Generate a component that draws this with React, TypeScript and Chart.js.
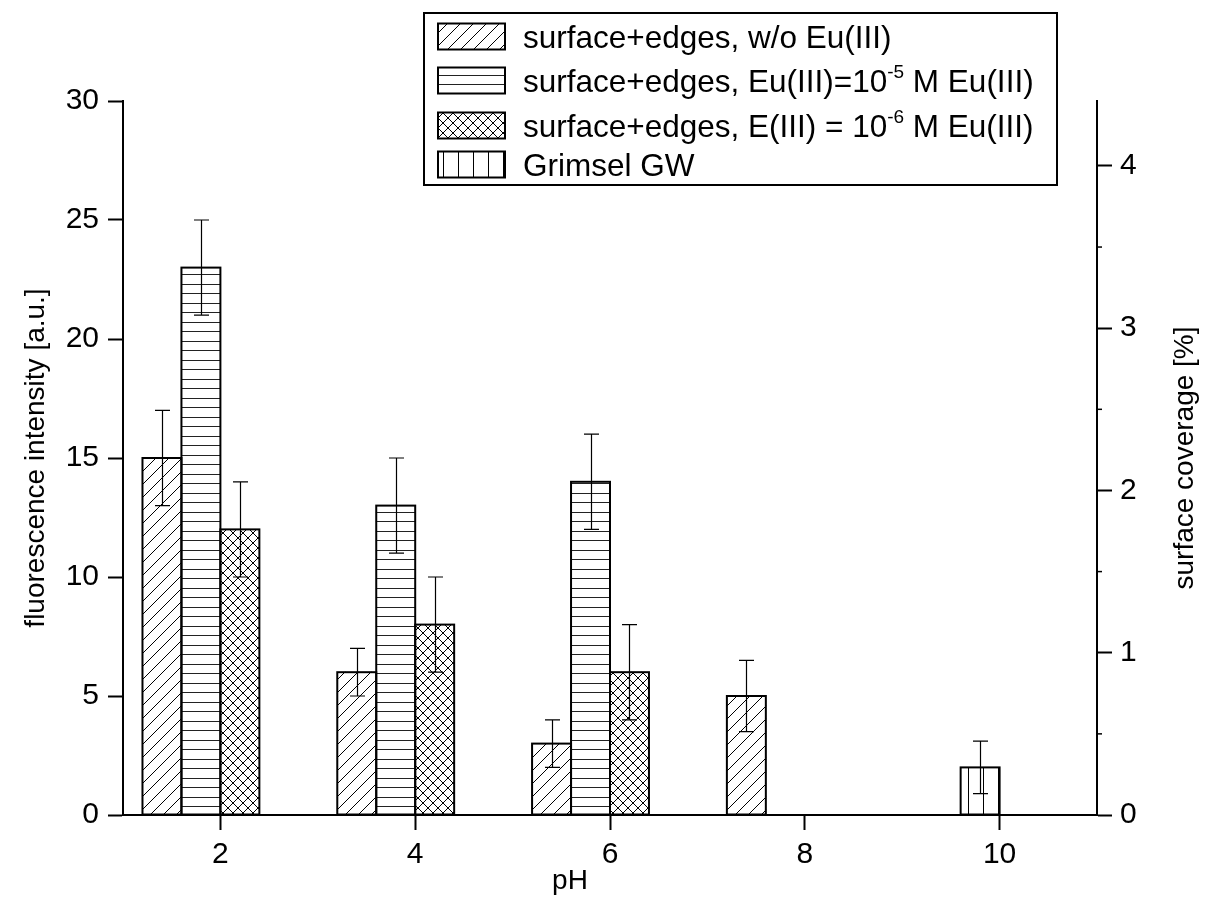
import React, { useEffect, useRef } from 'react';
import { Chart, registerables } from 'chart.js';

Chart.register(...registerables);

// ---------- data ----------
const pHTicks = [2, 4, 6, 8, 10];
const intensityTicks = [0, 5, 10, 15, 20, 25, 30];
const coverageTicks = [0, 1, 2, 3, 4];
const coverageMinorTicks = [0.5, 1.5, 2.5, 3.5];

const woEuPH = [1.4, 3.4, 5.4, 7.4];
const woEuVal = [15, 6, 3, 5];
const woEuErr = [2, 1, 1, 1.5];

const eu5PH = [1.8, 3.8, 5.8];
const eu5Val = [23, 13, 14];
const eu5Err = [2, 2, 2];

const eu6PH = [2.2, 4.2, 6.2];
const eu6Val = [12, 8, 6];
const eu6Err = [2, 2, 2];

const grimselPH = [9.8];
const grimselVal = [2];
const grimselErr = [1.1];

type Seg = { t: string; sup?: boolean };
const legendRows: Seg[][] = [
  [{ t: 'surface+edges, w/o Eu(III)' }],
  [{ t: 'surface+edges, Eu(III)=10' }, { t: '-5', sup: true }, { t: ' M Eu(III)' }],
  [{ t: 'surface+edges, E(III) = 10' }, { t: '-6', sup: true }, { t: ' M Eu(III)' }],
  [{ t: 'Grimsel GW' }],
];

const xTitle = 'pH';
const yTitle = 'fluorescence intensity [a.u.]';
const y2Title = 'surface coverage [%]';

const FONT = '"Liberation Sans", Arial, sans-serif';
const CW = 1192;
const CH = 894;

function makePattern(kind: string): CanvasPattern | string {
  const c = document.createElement('canvas');
  let w = 10, h = 10;
  if (kind === 'diag') { w = 13; h = 13; }
  if (kind === 'horiz') { w = 8; h = 19; }
  if (kind === 'cross') { w = 10; h = 10; }
  if (kind === 'vert') { w = 15; h = 8; }
  c.width = w; c.height = h;
  const g = c.getContext('2d')!;
  g.fillStyle = '#fff';
  g.fillRect(0, 0, w, h);
  g.strokeStyle = '#000';
  g.lineWidth = 1;
  g.beginPath();
  if (kind === 'diag' || kind === 'cross') {
    for (let k = -1; k <= 1; k++) {
      g.moveTo(k * w, h);
      g.lineTo(k * w + w, 0);
    }
  }
  if (kind === 'cross') {
    for (let k = -1; k <= 1; k++) {
      g.moveTo(k * w, 0);
      g.lineTo(k * w + w, h);
    }
  }
  if (kind === 'horiz') {
    g.strokeStyle = '#222';
    g.moveTo(0, 0.5); g.lineTo(w, 0.5);
    g.moveTo(0, 10.5); g.lineTo(w, 10.5);
  }
  if (kind === 'vert') {
    g.moveTo(0.5, 0); g.lineTo(0.5, h);
  }
  g.stroke();
  const p = g.createPattern(c, 'repeat');
  return p || '#fff';
}

const pts = (xs: number[], ys: number[]) => xs.map((x, i) => ({ x, y: ys[i] }));

export default function App() {
  const ref = useRef<HTMLCanvasElement | null>(null);

  useEffect(() => {
    if (!ref.current) return;
    const patterns = [makePattern('diag'), makePattern('horiz'), makePattern('cross'), makePattern('vert')];

    const customPlugin = {
      id: 'customDecor',
      beforeDraw(chart: any) {
        const ctx = chart.ctx;
        ctx.save();
        ctx.fillStyle = '#fff';
        ctx.fillRect(0, 0, chart.width, chart.height);
        ctx.restore();
      },
      afterDatasetsDraw(chart: any) {
        const ctx = chart.ctx;
        ctx.save();
        // bar outlines
        ctx.strokeStyle = '#000';
        ctx.lineWidth = 2;
        chart.data.datasets.forEach((ds: any, i: number) => {
          const meta = chart.getDatasetMeta(i);
          meta.data.forEach((el: any) => {
            const { x, y, base, width } = el.getProps(['x', 'y', 'base', 'width'], true);
            ctx.strokeRect(x - width / 2, y, width, base - y);
          });
        });
        // error bars
        ctx.lineWidth = 1.2;
        chart.data.datasets.forEach((ds: any, i: number) => {
          const meta = chart.getDatasetMeta(i);
          const ys = chart.scales[ds.yAxisID || 'y'];
          meta.data.forEach((el: any, j: number) => {
            const v = ds.data[j].y;
            const e = ds.errors[j];
            const x = Math.round(el.x) + 0.5;
            const top = ys.getPixelForValue(v + e);
            const bot = ys.getPixelForValue(v - e);
            ctx.beginPath();
            ctx.moveTo(x, top); ctx.lineTo(x, bot);
            ctx.moveTo(x - 7.5, top); ctx.lineTo(x + 7.5, top);
            ctx.moveTo(x - 7.5, bot); ctx.lineTo(x + 7.5, bot);
            ctx.stroke();
          });
        });
        ctx.restore();
      },
      afterDraw(chart: any) {
        const ctx = chart.ctx;
        const area = chart.chartArea;
        const y2 = chart.scales.y2;
        ctx.save();
        // minor ticks right axis
        ctx.strokeStyle = '#000';
        ctx.lineWidth = 1.5;
        coverageMinorTicks.forEach((v) => {
          const py = y2.getPixelForValue(v);
          ctx.beginPath();
          ctx.moveTo(area.right, py);
          ctx.lineTo(area.right + 5, py);
          ctx.stroke();
        });
        // titles
        ctx.fillStyle = '#000';
        ctx.font = `28px ${FONT}`;
        ctx.textAlign = 'center';
        ctx.textBaseline = 'middle';
        const cy = (area.top + area.bottom) / 2;
        ctx.save();
        ctx.translate(28, cy);
        ctx.rotate(-Math.PI / 2);
        ctx.fillText(yTitle, 0, 0);
        ctx.restore();
        ctx.save();
        ctx.translate(1177, cy);
        ctx.rotate(-Math.PI / 2);
        ctx.fillText(y2Title, 0, 0);
        ctx.restore();
        ctx.textBaseline = 'alphabetic';
        ctx.fillText(xTitle, 562, 881);

        // legend
        ctx.lineWidth = 2;
        ctx.strokeStyle = '#000';
        ctx.fillStyle = '#fff';
        ctx.fillRect(416, 5, 633, 172);
        ctx.strokeRect(416, 5, 633, 172);
        const centers = [28.5, 72.5, 117.5, 156.5];
        legendRows.forEach((row, i) => {
          const c = centers[i];
          ctx.fillStyle = patterns[i] as any;
          ctx.fillRect(430, c - 13, 67, 26);
          ctx.lineWidth = 2;
          ctx.strokeRect(430, c - 13, 67, 26);
          let x = 515;
          const base = c + 11;
          ctx.fillStyle = '#000';
          ctx.textAlign = 'left';
          row.forEach((seg) => {
            ctx.font = seg.sup ? `19px ${FONT}` : `31.5px ${FONT}`;
            ctx.fillText(seg.t, x, seg.sup ? base - 14 : base);
            x += ctx.measureText(seg.t).width;
          });
        });
        ctx.restore();
      },
    };

    const tickFont = { family: FONT, size: 30 };
    const commonGrid = {
      drawOnChartArea: false,
      drawTicks: true,
      tickLength: 15,
      tickColor: '#000',
      tickWidth: 2,
    };
    const commonBorder = { display: true, color: '#000', width: 2 };

    const mk = (label: string, xs: number[], ys: number[], errs: number[], i: number) => ({
      label,
      data: pts(xs, ys),
      errors: errs,
      yAxisID: 'y',
      backgroundColor: patterns[i],
      borderWidth: 0,
      grouped: false,
      barPercentage: 1,
      categoryPercentage: 1,
    });

    const chart = new Chart(ref.current, {
      type: 'bar',
      data: {
        datasets: [
          mk('surface+edges, w/o Eu(III)', woEuPH, woEuVal, woEuErr, 0),
          mk('surface+edges, Eu(III)=10^-5 M Eu(III)', eu5PH, eu5Val, eu5Err, 1),
          mk('surface+edges, E(III) = 10^-6 M Eu(III)', eu6PH, eu6Val, eu6Err, 2),
          mk('Grimsel GW', grimselPH, grimselVal, grimselErr, 3),
        ] as any,
      },
      options: {
        responsive: false,
        animation: false,
        devicePixelRatio: 1,
        layout: { padding: { top: 93, left: 0, right: 0, bottom: 0 } },
        plugins: { legend: { display: false }, tooltip: { enabled: false } },
        scales: {
          x: {
            type: 'linear',
            min: 1,
            max: 11,
            offset: false,
            grid: { ...commonGrid, offset: false },
            border: commonBorder,
            ticks: { font: tickFont, color: '#000', padding: 7, maxRotation: 0 },
            afterBuildTicks: (s: any) => { s.ticks = pHTicks.map((v) => ({ value: v })); },
            afterFit: (s: any) => { s.height = CH - 807; },
          },
          y: {
            type: 'linear',
            position: 'left',
            min: 0,
            max: 30,
            grid: commonGrid,
            border: commonBorder,
            ticks: { font: tickFont, color: '#000', padding: 9 },
            afterBuildTicks: (s: any) => { s.ticks = intensityTicks.map((v) => ({ value: v })); },
            afterFit: (s: any) => { s.width = 115; },
          },
          y2: {
            type: 'linear',
            position: 'right',
            min: 0,
            max: 4.4,
            grid: commonGrid,
            border: commonBorder,
            ticks: { font: tickFont, color: '#000', padding: 8 },
            afterBuildTicks: (s: any) => { s.ticks = coverageTicks.map((v) => ({ value: v })); },
            afterFit: (s: any) => { s.width = CW - 1089; },
          },
        },
      } as any,
      plugins: [customPlugin],
    });
    return () => chart.destroy();
  }, []);

  return (
    <div style={{ width: CW, height: CH }}>
      <canvas ref={ref} width={CW} height={CH} style={{ display: 'block' }} />
    </div>
  );
}
